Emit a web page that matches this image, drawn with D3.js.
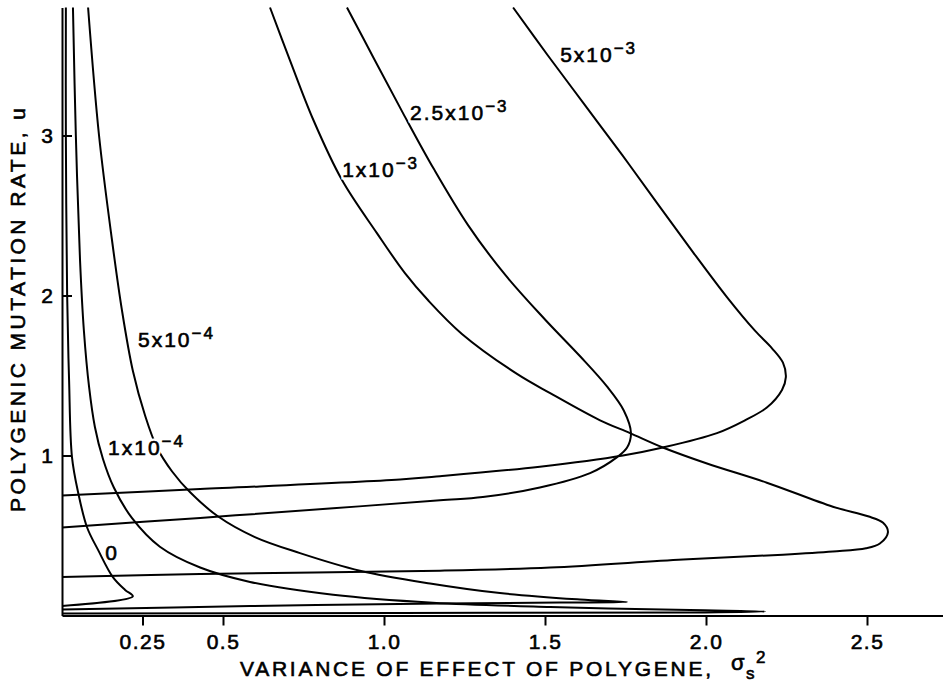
<!DOCTYPE html>
<html>
<head>
<meta charset="utf-8">
<script src="https://cdn.jsdelivr.net/npm/d3@7"></script>
<style>
  body { margin: 0; background: #fff; }
  svg text { font-family: "Liberation Sans", Arial, sans-serif; fill: #000; }
  .ink { stroke: #000; stroke-width: 0.6px; }
</style>
</head>
<body>
<div id="chart"></div>
<script>
// curve levels: mantissa and exponent of the label
var levelText = ["0", "1x10", "5x10", "1x10", "2.5x10", "5x10"];
var levelExp  = ["", "-4", "-4", "-3", "-3", "-3"];

// [sigma_s^2, u]: from the top, round the tip, back to the axis
var curve0 = [[0.012,3.80],[0.012,3.00],[0.016,2.00],[0.022,1.47],[0.031,0.99],[0.050,0.77],
  [0.078,0.55],[0.112,0.41],[0.158,0.24],[0.196,0.16],[0.220,0.12],[0.000,0.06]];
var curve1e4 = [[0.034,3.80],[0.043,3.00],[0.056,2.22],[0.068,1.78],[0.084,1.43],[0.102,1.18],
  [0.127,0.98],[0.161,0.80],[0.217,0.61],[0.304,0.43],[0.429,0.30],[0.584,0.21],[0.842,0.13],
  [1.152,0.08],[1.516,0.053],[1.950,0.034],[2.183,0.025],[1.950,0.019],[1.050,0.016],[0.000,0.0125]];
var curve5e4 = [[0.081,3.80],[0.115,3.00],[0.155,2.35],[0.186,1.91],[0.220,1.53],[0.258,1.25],
  [0.295,1.05],[0.342,0.90],[0.398,0.77],[0.484,0.62],[0.599,0.49],[0.739,0.39],[0.925,0.28],
  [1.143,0.20],[1.360,0.14],[1.609,0.10],[1.755,0.084],[1.547,0.081],[1.174,0.075],[0.584,0.059],
  [0.000,0.0375]];
var curve1e3 = [[0.646,3.80],[0.708,3.47],[0.780,3.10],[0.870,2.72],[0.978,2.39],[1.065,2.14],
  [1.137,1.97],[1.242,1.76],[1.413,1.51],[1.516,1.39],[1.671,1.22],[1.764,1.14],[1.866,1.05],
  [2.003,0.95],[2.189,0.83],[2.394,0.68],[2.503,0.62],[2.550,0.58],[2.565,0.52],[2.540,0.45],
  [2.497,0.42],[2.394,0.40],[2.239,0.38],[1.929,0.35],[1.516,0.30],[1.174,0.28],[0.429,0.26],
  [0.000,0.24]];
var curve25e3 = [[0.885,3.80],[0.969,3.48],[1.059,3.14],[1.155,2.79],[1.261,2.44],[1.376,2.13],
  [1.500,1.85],[1.609,1.62],[1.693,1.43],[1.745,1.28],[1.767,1.14],[1.755,1.05],[1.724,0.99],
  [1.640,0.89],[1.484,0.80],[1.307,0.74],[1.174,0.72],[0.842,0.67],[0.429,0.61],[0.000,0.55]];
var curve5e3 = [[1.401,3.80],[1.509,3.50],[1.624,3.19],[1.739,2.88],[1.851,2.57],[1.960,2.27],
  [2.065,1.99],[2.152,1.78],[2.205,1.67],[2.239,1.58],[2.248,1.49],[2.236,1.41],[2.189,1.30],
  [2.121,1.22],[2.034,1.14],[1.866,1.05],[1.742,1.00],[1.484,0.93],[1.174,0.87],[1.050,0.85],
  [0.429,0.79],[0.000,0.75]];

var xTicks = [0.25, 0.5, 1.0, 1.5, 2.0, 2.5];
var xTickLabels = ["0.25", "0.5", "1.0", "1.5", "2.0", "2.5"];
var yTicks = [1, 2, 3];
var yTickLabels = ["1", "2", "3"];

var curves = [curve0, curve1e4, curve5e4, curve1e3, curve25e3, curve5e3];
// where each curve label sits, in data units (left end of baseline)
var labelAt = [[0.134,0.347],[0.143,1.003],[0.236,1.678],[0.870,2.74],[1.081,3.097],[1.547,3.46]];

// set the dimensions and margins of the graph
var margin = {top: 7.5, right: 0, bottom: 69.5, left: 62},
    width = 943 - margin.left - margin.right,
    height = 685 - margin.top - margin.bottom;

var svg = d3.select("#chart")
  .append("svg")
    .attr("width", width + margin.left + margin.right)
    .attr("height", height + margin.top + margin.bottom)
  .append("g")
    .attr("transform", "translate(" + margin.left + "," + margin.top + ")");

var x = d3.scaleLinear()
    .domain([0, width / 322])
    .range([0, width]);
var y = d3.scaleLinear()
    .domain([0, 3.8])
    .range([height, 0]);

// X axis, ticks pointing down
svg.append("g")
    .attr("transform", "translate(0," + height + ")")
    .call(d3.axisBottom(x)
      .tickValues(xTicks)
      .tickFormat(function (d, i) { return xTickLabels[i]; })
      .tickSizeInner(10).tickSizeOuter(0).tickPadding(9));

// Y axis, ticks pointing into the plot
var yAxis = svg.append("g")
    .call(d3.axisLeft(y)
      .tickValues(yTicks)
      .tickFormat(function (d, i) { return yTickLabels[i]; })
      .tickSizeInner(-10).tickSizeOuter(0).tickPadding(9));

svg.selectAll(".domain").attr("stroke", "#000").attr("stroke-width", 2);
svg.selectAll(".tick line").attr("stroke", "#000").attr("stroke-width", 2);
svg.selectAll(".tick text")
    .attr("class", "ink")
    .attr("font-size", 21)
    .attr("letter-spacing", 1.5)
    .attr("font-family", "Liberation Sans, Arial, sans-serif");
yAxis.selectAll(".tick text").attr("letter-spacing", 0);

// the curves
var line = d3.line()
    .x(function (d) { return x(d[0]); })
    .y(function (d) { return y(d[1]); })
    .curve(d3.curveCatmullRom.alpha(0.5));

svg.append("g")
  .selectAll("path")
  .data(curves)
  .enter()
  .append("path")
    .attr("d", line)
    .attr("fill", "none")
    .attr("stroke", "#000")
    .attr("stroke-width", 2)
    .attr("stroke-linejoin", "round");

// curve labels; a white copy underneath breaks the line behind them
function addLabels(halo) {
  var t = svg.append("g")
    .selectAll("text")
    .data(levelText)
    .enter()
    .append("text")
      .attr("x", function (d, i) { return x(labelAt[i][0]); })
      .attr("y", function (d, i) { return y(labelAt[i][1]); })
      .attr("font-size", 21)
      .attr("letter-spacing", 2);
  if (halo) t.attr("stroke", "#fff").attr("stroke-width", 5).attr("fill", "#fff");
  else t.attr("class", "ink");
  t.append("tspan").text(function (d) { return d; });
  t.append("tspan")
      .attr("font-size", 17)
      .attr("dy", -8)
      .text(function (d, i) { return levelExp[i].replace("-", "\u2212"); });
}
addLabels(true);
addLabels(false);

// axis titles
svg.append("text")
    .attr("class", "ink")
    .attr("transform", "translate(" + (25 - margin.left) + "," + (512 - margin.top) + ") rotate(-90)")
    .attr("font-size", 21)
    .attr("textLength", 404)
    .attr("lengthAdjust", "spacing")
    .text("POLYGENIC MUTATION RATE, u");

var xt = svg.append("g")
    .attr("transform", "translate(" + (-margin.left) + "," + (-margin.top) + ")");
xt.append("text")
    .attr("class", "ink")
    .attr("x", 240).attr("y", 676)
    .attr("font-size", 21)
    .attr("textLength", 471)
    .attr("lengthAdjust", "spacing")
    .text("VARIANCE OF EFFECT OF POLYGENE,");
xt.append("text")
    .attr("class", "ink")
    .attr("x", 731).attr("y", 670)
    .attr("font-size", 22)
    .text("\u03c3");
xt.append("text")
    .attr("class", "ink")
    .attr("x", 746).attr("y", 679)
    .attr("font-size", 17)
    .text("s");
xt.append("text")
    .attr("class", "ink")
    .attr("x", 756).attr("y", 663)
    .attr("font-size", 17)
    .text("2");
</script>
</body>
</html>
